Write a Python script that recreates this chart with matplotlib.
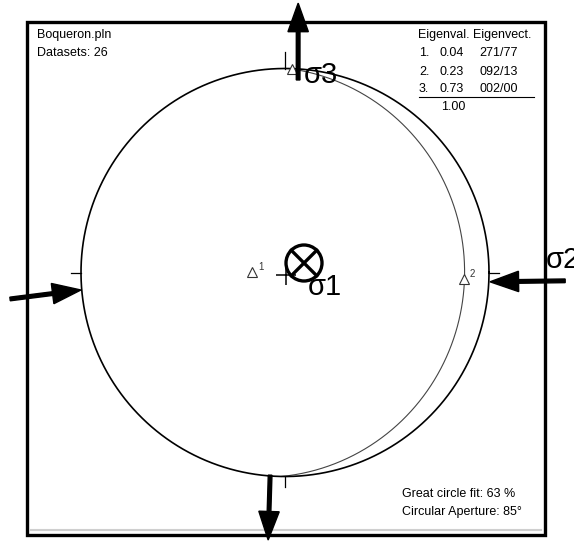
import numpy as np
import matplotlib.pyplot as plt
from matplotlib.patches import Circle, Rectangle

plt.rcParams['font.family'] = ['Liberation Sans', 'DejaVu Sans']

# data
file_name = 'Boqueron.pln'
n_datasets = 26
eig_vals = [0.04, 0.23, 0.73]
eig_trend = [271, 92, 2]
eig_plunge = [77, 13, 0]
gc_fit = 63
aperture = 85
# stress arrows (N, E, S, W): azimuth at tail and at tip
arrow_tail_az = [3.9, 91.7, 184.2, 264.5]
arrow_tip_az = [2.8, 92.6, 183.6, 265.1]
arrow_label = ['\u03c33', '\u03c32', '', '']


def project(trend, plunge):
    # lower hemisphere equal-area (Schmidt)
    t = np.radians(trend)
    p = np.radians(plunge)
    r = np.sqrt(2) * np.sin((np.pi / 2 - p) / 2)
    return r * np.sin(t), r * np.cos(t)


def polar(az, r):
    a = np.radians(az)
    return r * np.sin(a), r * np.cos(a)


# layout: pixel -> stereonet units
S = 204.0
cx, cy = 285.0, 272.5
W, H = 574, 542


def P(x, y):
    return (x - cx) / S, (cy - y) / S


fig = plt.figure(figsize=(W / 100, H / 100), dpi=100)
ax = fig.add_axes([0, 0, 1, 1])
ax.set_xlim(-cx / S, (W - cx) / S)
ax.set_ylim(-(H - cy) / S, cy / S)
ax.axis('off')

# frame
x0, y0 = P(27, 535)
ax.add_patch(Rectangle((x0, y0), (545 - 27) / S, (535 - 22) / S, fill=False,
                       lw=2.4, ec='black', zorder=5))
gx0, gy = P(31, 530)
gx1, _ = P(541, 530)
ax.plot([gx0, gx1], [gy, gy], color='#cfcfcf', lw=1.5)

# primitive circle
th = np.linspace(0, 2 * np.pi, 400)
ax.plot(np.cos(th), np.sin(th), color='black', lw=1.2, zorder=3)

# ticks N E S W
for az in [0, 90, 180, 270]:
    r1 = 1.08 if az == 0 else 1.05
    a = np.radians(az)
    ax.plot([np.sin(a), r1 * np.sin(a)], [np.cos(a), r1 * np.cos(a)],
            color='black', lw=0.9)

# center cross
ax.plot(0.005, -0.012, marker='+', ms=14, mew=1.1, color='black')

# best-fit great circle (pole = eigenvector 1)
dd = np.radians((eig_trend[0] + 180) % 360)
dip = np.radians(90 - eig_plunge[0])
strike = dd - np.pi / 2
s_vec = np.array([np.sin(strike), np.cos(strike), 0.0])
d_vec = np.array([np.sin(dd) * np.cos(dip), np.cos(dd) * np.cos(dip), np.sin(dip)])
ang = np.linspace(0, np.pi, 181)
v = np.outer(np.cos(ang), s_vec) + np.outer(np.sin(ang), d_vec)
gc_t = np.degrees(np.arctan2(v[:, 0], v[:, 1]))
gc_p = np.degrees(np.arcsin(np.clip(v[:, 2], -1, 1)))
gx, gy2 = project(gc_t, gc_p)
ax.plot(gx, gy2, color='#444444', lw=0.8, zorder=2)

# eigenvectors
ex, ey = project(np.array(eig_trend), np.array(eig_plunge))
for i in range(3):
    ax.plot(ex[i], ey[i], marker='^', ms=6.5, mfc='white', mec='#333333',
            mew=0.8, zorder=4)
    if i < 2:
        ax.text(ex[i] + 0.027, ey[i] + 0.0, str(i + 1), fontsize=7,
                color='#333333', va='bottom', ha='left')

# sigma 1 vertical: circle with cross
sc = P(304, 263)
sr = 18 / S
ax.add_patch(Circle(sc, sr, fill=False, lw=2.4, ec='black', zorder=6))
k = sr * np.cos(np.pi / 4)
ax.plot([sc[0] - k, sc[0] + k], [sc[1] - k, sc[1] + k], color='black', lw=2.4, zorder=6)
ax.plot([sc[0] - k, sc[0] + k], [sc[1] + k, sc[1] - k], color='black', lw=2.4, zorder=6)
ax.text(*P(308, 295), '\u03c31', fontsize=21, ha='left', va='baseline', zorder=7)

# stress arrows
tail_r = [0.946, 1.374, 0.996, 1.354]
tip_r = [1.322, 1.006, 1.314, 1.004]
for az0, az1, r0, r1 in zip(arrow_tail_az, arrow_tip_az, tail_r, tip_r):
    xs, ys = polar(az0, r0)
    xe, ye = polar(az1, r1)
    ax.arrow(xs, ys, xe - xs, ye - ys, width=0.018, head_width=0.1,
             head_length=0.14, length_includes_head=True, fc='black',
             ec='black', clip_on=False, zorder=8)
ax.text(*P(304, 83), arrow_label[0], fontsize=21, ha='left', va='baseline', zorder=7)
ax.text(*P(546, 268), arrow_label[1], fontsize=21, ha='left', va='baseline', zorder=7)

# header texts
fs = 9
ax.text(*P(37, 38), file_name, fontsize=fs, va='baseline')
ax.text(*P(37, 56.5), 'Datasets: %d' % n_datasets, fontsize=fs, va='baseline')

ax.text(*P(418, 38), 'Eigenval. Eigenvect.', fontsize=fs, va='baseline')
row_y = [56.5, 75, 92.5]
for i in range(3):
    ax.text(*P(419, row_y[i]), '%d.' % (i + 1), fontsize=fs, va='baseline')
    ax.text(*P(440, row_y[i]), '%.2f' % eig_vals[i], fontsize=fs, va='baseline')
    ax.text(*P(479, row_y[i]), '%03d/%02d' % (eig_trend[i], eig_plunge[i]),
            fontsize=fs, va='baseline')
lx0, ly = P(419, 96.5)
lx1, _ = P(534, 96.5)
ax.plot([lx0, lx1], [ly, ly], color='black', lw=0.8)
ax.text(*P(441, 110), '%.2f' % sum(eig_vals), fontsize=fs, va='baseline')

ax.text(*P(402, 497), 'Great circle fit: %d %%' % gc_fit, fontsize=fs, va='baseline')
ax.text(*P(402, 515), 'Circular Aperture: %d\u00b0' % aperture, fontsize=fs, va='baseline')

fig.savefig('out.png', dpi=100)
